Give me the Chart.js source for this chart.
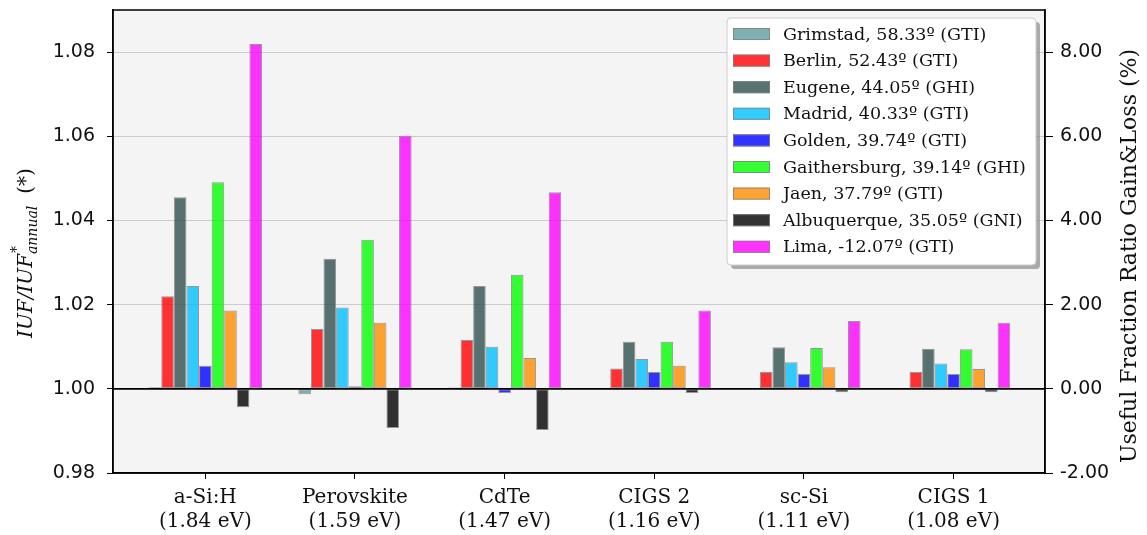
<!doctype html>
<html lang="en">
<head>
<meta charset="utf-8">
<title>IUF / IUF annual</title>
<script src="https://cdn.jsdelivr.net/npm/chart.js@4.4.1/dist/chart.umd.min.js"></script>
<style>
  html, body { margin: 0; padding: 0; background: #fff; }
</style>
</head>
<body>
<canvas id="grafica" width="1147" height="535"></canvas>

<script>
// categorias (eje x)
let categorias = ['a-Si:H', 'Perovskite', 'CdTe', 'CIGS 2', 'sc-Si', 'CIGS 1'];
let bandGap = ['(1.84 eV)', '(1.59 eV)', '(1.47 eV)', '(1.16 eV)', '(1.11 eV)', '(1.08 eV)'];
let posiciones = [0, 1, 2, 3, 4, 5];

// ciudades (series)
let ciudades = [
  'Grimstad, 58.33º (GTI)', 'Berlin, 52.43º (GTI)', 'Eugene, 44.05º (GHI)',
  'Madrid, 40.33º (GTI)', 'Golden, 39.74º (GTI)', 'Gaithersburg, 39.14º (GHI)',
  'Jaen, 37.79º (GTI)', 'Albuquerque, 35.05º (GNI)', 'Lima, -12.07º (GTI)'
];
let colores = [
  'rgba(95,158,160,0.8)', 'rgba(255,0,0,0.8)', 'rgba(47,79,79,0.8)',
  'rgba(0,191,255,0.8)', 'rgba(0,0,255,0.8)', 'rgba(0,255,0,0.8)',
  'rgba(255,140,0,0.8)', 'rgba(0,0,0,0.8)', 'rgba(255,0,255,0.8)'
];

// IUF / IUF*annual por tecnologia
let grimstad     = [1.0004, 0.9987, 1.0003, 1.0001, 1.0001, 1.0001];
let berlin       = [1.0220, 1.0142, 1.0116, 1.0048, 1.0040, 1.0040];
let eugene       = [1.0455, 1.0309, 1.0244, 1.0112, 1.0099, 1.0095];
let madrid       = [1.0244, 1.0193, 1.0100, 1.0071, 1.0063, 1.0060];
let golden       = [1.0055, 1.0006, 0.9990, 1.0040, 1.0035, 1.0035];
let gaithersburg = [1.0491, 1.0354, 1.0271, 1.0112, 1.0097, 1.0094];
let jaen         = [1.0186, 1.0157, 1.0073, 1.0055, 1.0051, 1.0047];
let albuquerque  = [0.9956, 0.9907, 0.9902, 0.9990, 0.9992, 0.9992];
let lima         = [1.0819, 1.0601, 1.0467, 1.0186, 1.0161, 1.0157];

let series = [grimstad, berlin, eugene, madrid, golden, gaithersburg, jaen, albuquerque, lima];

// ticks
let yTicks = [0.98, 1.00, 1.02, 1.04, 1.06, 1.08];
let yTicksPct = [-2, 0, 2, 4, 6, 8];

const serif = 'DejaVu Serif';
const sans = 'DejaVu Sans';

const decoracion = {
  id: 'decoracion',
  beforeDraw(chart) {
    const { ctx, chartArea: a } = chart;
    ctx.save();
    ctx.fillStyle = '#f4f4f4';
    ctx.fillRect(a.left, a.top, a.right - a.left, a.bottom - a.top);
    ctx.restore();
  },
  afterDatasetsDraw(chart) {
    const { ctx, chartArea: a } = chart;
    const y1 = chart.scales.y.getPixelForValue(1);
    ctx.save();
    ctx.strokeStyle = '#000';
    ctx.lineWidth = 1.8;
    ctx.beginPath();
    ctx.moveTo(a.left, y1);
    ctx.lineTo(a.right, y1);
    ctx.stroke();
    ctx.restore();
  },
  afterDraw(chart) {
    const { ctx, chartArea: a } = chart;
    ctx.save();

    // marco
    ctx.strokeStyle = '#000';
    ctx.lineWidth = 1.5;
    ctx.strokeRect(a.left, a.top, a.right - a.left, a.bottom - a.top);

    // titulo izquierdo  IUF/IUF*_annual (*)
    ctx.fillStyle = '#111';
    ctx.translate(32, 338);
    ctx.rotate(-Math.PI / 2);
    ctx.textBaseline = 'alphabetic';
    ctx.textAlign = 'left';
    ctx.font = 'italic 20px "' + serif + '"';
    ctx.fillText('IUF/IUF', 0, 0);
    let w = ctx.measureText('IUF/IUF').width;
    ctx.font = 'italic 14px "' + serif + '"';
    ctx.fillText('*', w + 1, -11);
    ctx.fillText('annual', w, 5);
    let wa = ctx.measureText('annual').width;
    ctx.font = '20px "' + serif + '"';
    ctx.fillText('(*)', w + wa + 12, 0);
    ctx.setTransform(1, 0, 0, 1, 0, 0);

    // titulo derecho
    ctx.translate(1136, 256);
    ctx.rotate(-Math.PI / 2);
    ctx.textAlign = 'center';
    ctx.font = '22px "' + serif + '"';
    ctx.fillText('Useful Fraction Ratio Gain&Loss (%)', 0, 0);
    ctx.setTransform(1, 0, 0, 1, 0, 0);

    // leyenda
    const lx = 727, ly = 18, lw = 309, lh = 247;
    ctx.fillStyle = 'rgba(120,120,120,0.6)';
    ctx.beginPath();
    ctx.roundRect(lx + 4, ly + 4, lw, lh, 4);
    ctx.fill();
    ctx.fillStyle = '#fff';
    ctx.strokeStyle = '#cccccc';
    ctx.lineWidth = 1;
    ctx.beginPath();
    ctx.roundRect(lx, ly, lw, lh, 4);
    ctx.fill();
    ctx.stroke();

    ctx.font = '17.5px "' + serif + '"';
    ctx.textAlign = 'left';
    ctx.textBaseline = 'middle';
    chart.data.datasets.forEach((ds, i) => {
      const yy = 34 + i * 26.6;
      ctx.fillStyle = ds.backgroundColor;
      ctx.fillRect(733, yy - 6, 37, 12);
      ctx.strokeStyle = 'rgba(128,128,128,0.8)';
      ctx.strokeRect(733.5, yy - 5.5, 36, 11);
      ctx.fillStyle = '#111';
      ctx.fillText(ds.label, 783, yy + 1);
    });
    ctx.restore();
  }
};

let datasets = series.map((vals, i) => ({
  label: ciudades[i],
  data: vals,
  base: 1,
  backgroundColor: colores[i],
  borderColor: 'rgba(128,128,128,0.8)',
  borderWidth: 1,
  borderSkipped: false,
  yAxisID: 'y'
}));

// sin relleno extra arriba/abajo por las etiquetas
const sinRelleno = s => { s.paddingTop = 0; s.paddingBottom = 0; };

let canvas = document.getElementById('grafica').getContext('2d');

var chart = new Chart(canvas, {
  type: 'bar',
  data: { labels: posiciones, datasets: datasets },
  plugins: [decoracion],
  options: {
    responsive: false,
    animation: false,
    devicePixelRatio: 1,
    layout: { padding: { top: 10, left: 0, right: 0, bottom: 0 } },
    categoryPercentage: 0.757,
    barPercentage: 1,
    plugins: { legend: { display: false }, tooltip: { enabled: false } },
    scales: {
      x: {
        type: 'linear',
        min: -0.617,
        max: 5.611,
        offset: false,
        afterBuildTicks: s => { s.ticks = posiciones.map(v => ({ value: v })); },
        afterFit: s => { s.height = 62; s.paddingLeft = 0; s.paddingRight = 0; },
        ticks: {
          callback: v => [categorias[v], bandGap[v]],
          font: { family: serif, size: 20, lineHeight: 1.2 },
          color: '#111',
          padding: 7,
          maxRotation: 0,
          autoSkip: false
        },
        grid: { drawOnChartArea: false, tickLength: 6, tickColor: '#000', offset: false },
        border: { color: '#000', width: 1.5 }
      },
      y: {
        position: 'left',
        min: 0.98,
        max: 1.09,
        afterBuildTicks: s => { s.ticks = yTicks.map(v => ({ value: v })); },
        afterFit: s => { s.width = 113; sinRelleno(s); },
        ticks: {
          callback: v => v.toFixed(2),
          font: { family: sans, size: 19 },
          color: '#111',
          padding: 12
        },
        grid: { color: '#cccccc', lineWidth: 1, tickLength: 6, tickColor: '#000' },
        border: { color: '#000', width: 1.5 }
      },
      y2: {
        position: 'right',
        min: -2,
        max: 9,
        afterBuildTicks: s => { s.ticks = yTicksPct.map(v => ({ value: v })); },
        afterFit: s => { s.width = 102; sinRelleno(s); },
        ticks: {
          callback: v => v.toFixed(2),
          font: { family: sans, size: 19 },
          color: '#111',
          padding: 7
        },
        grid: { drawOnChartArea: false, tickLength: 8, tickColor: '#000' },
        border: { color: '#000', width: 1.5 }
      }
    }
  }
});
</script>
</body>
</html>
